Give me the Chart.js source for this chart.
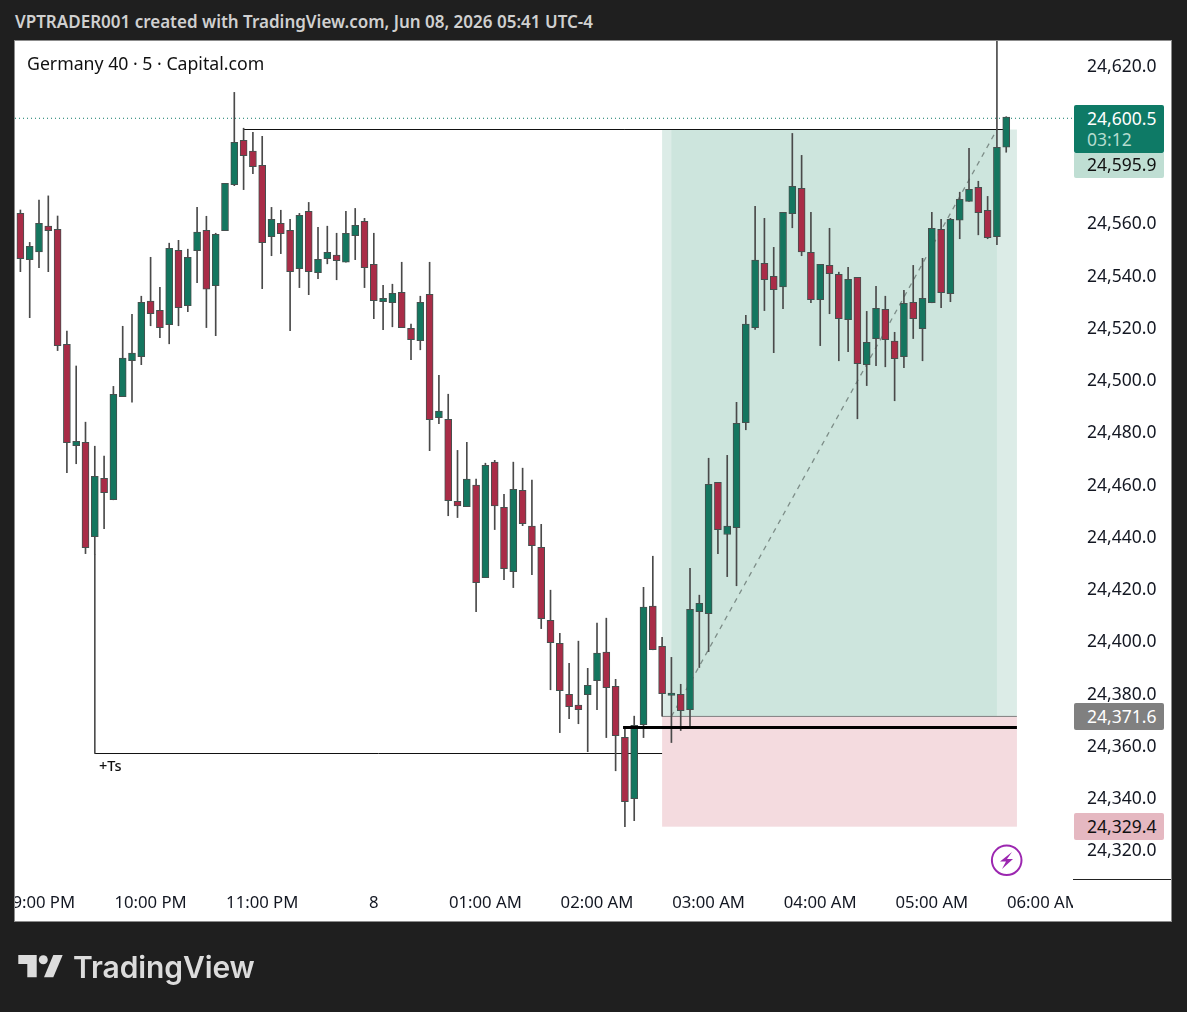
<!DOCTYPE html>
<html>
<head>
<meta charset="utf-8">
<title>Germany 40</title>
<script src="https://cdn.jsdelivr.net/npm/chart.js@4"></script>
<style>
  html, body { margin: 0; padding: 0; background: #1f1f1f; width: 1187px; height: 1012px; overflow: hidden; font-family: "Noto Sans", sans-serif; }
  .abs { position: absolute; white-space: nowrap; }
  #header { left: 15px; top: 10px; font-size: 17px; font-weight: 600; color: #d0d0d0; }
  #panel { left: 14px; top: 40px; width: 1156px; height: 880px; background: #fff; border: 1px solid #8c8c8c; }
  #panel canvas { position: absolute; left: 0; top: 0; }
  #title { left: 27px; top: 51px; font-size: 17.7px; font-weight: 400; color: #111; }
  #ts { left: 99px; top: 755px; font-size: 14.5px; font-weight: 500; color: #111; }
  .mask { left: 1073px; top: 880px; width: 98px; height: 41px; background: #fff; border-top: 1px solid #222; box-sizing: border-box; margin-top: -1px; }
  .tag { left: 1074px; width: 90px; box-sizing: border-box; padding-left: 13px; font-size: 17.5px; border-radius: 2px; font-weight: 400; }
  #brand { left: 73px; top: 949px; font-family: "Inter", sans-serif; font-size: 30px; font-weight: 600; color: #dcdcdc; letter-spacing: -0.1px; }
</style>
</head>
<body>
<div class="abs" id="header">VPTRADER001 created with TradingView.com, Jun 08, 2026 05:41 UTC-4</div>
<div class="abs" id="panel"><canvas id="chart" width="1156" height="880"></canvas></div>
<div class="abs mask"></div>
<div class="abs" id="title">Germany 40 · 5 · Capital.com</div>
<div class="abs" id="ts">+Ts</div>

<div class="abs tag" style="top:153px;height:25px;line-height:23px;background:#bfded3;color:#111;border-radius:0 0 2px 2px;">24,595.9</div>
<div class="abs tag" style="top:105px;height:48px;background:#0e7a66;color:#fff;line-height:21px;padding-top:3px;">24,600.5<br><span style="color:#b5dccf">03:12</span></div>
<div class="abs tag" style="top:703px;height:27px;line-height:26px;background:#808080;color:#fff;">24,371.6</div>
<div class="abs tag" style="top:813px;height:27px;line-height:26px;background:#e5b8c1;color:#111;">24,329.4</div>

<svg class="abs" style="left:0;top:0;pointer-events:none" width="1187" height="1012">
  <circle cx="1006.7" cy="860.3" r="14.8" fill="#fff" stroke="#9c27b0" stroke-width="2"/>
  <path d="M1012 852 L1000 861.5 L1006 861.5 L1002 869 L1013 859 L1007 859 Z" fill="#9c27b0"/>
  <path d="M18.3 955 H36.7 V977.3 H27.3 V964 H18.3 Z" fill="#dcdcdc"/>
  <circle cx="43.3" cy="959.7" r="4.5" fill="#dcdcdc"/>
  <path d="M53.3 955 H62.7 L53.3 977.3 H44 Z" fill="#dcdcdc"/>
</svg>
<div class="abs" id="brand">TradingView</div>

<script>
// candles, 5 min bars
const opens = [24563.6,24545.9,24548.9,24558.7,24557.5,24513.5,24474.7,24476.0,24439.9,24462.2,24454.0,24493.5,24507.2,24508.8,24530.0,24526.5,24521.0,24549.5,24528.3,24549.3,24557.1,24535.9,24557.0,24574.6,24591.6,24587.4,24582.0,24554.7,24559.8,24557.1,24542.4,24564.4,24540.9,24546.3,24547.6,24544.9,24555.1,24560.6,24544.1,24529.8,24529.4,24533.4,24519.6,24514.9,24532.6,24485.4,24484.8,24453.4,24451.4,24459.6,24424.2,24468.4,24451.1,24426.5,24457.6,24443.9,24435.8,24407.9,24399.1,24379.6,24375.4,24379.4,24384.8,24395.7,24382.6,24363.1,24339.6,24367.9,24413.3,24397.9,24379.1,24379.6,24373.7,24411.2,24410.4,24460.7,24440.7,24443.3,24483.5,24519.9,24544.5,24539.5,24535.5,24563.5,24573.2,24548.7,24530.6,24543.7,24540.3,24522.9,24539.1,24505.7,24515.7,24526.9,24514.7,24508.8,24529.6,24519.5,24529.4,24557.5,24532.9,24561.0,24568.2,24573.6,24564.8,24554.7,24588.9];
const highs = [24564.9,24552.5,24568.7,24570.3,24562.6,24518.6,24505.2,24483.7,24474.5,24470.7,24497.4,24520.4,24525.0,24531.9,24546.8,24535.3,24552.2,24553.3,24549.9,24565.9,24562.5,24556.0,24575.1,24609.9,24596.2,24594.6,24593.1,24565.9,24564.8,24561.3,24563.6,24567.8,24558.3,24558.7,24556.0,24564.4,24565.5,24561.7,24556.0,24536.1,24536.5,24544.9,24521.2,24531.9,24544.9,24501.6,24494.4,24472.9,24476.0,24461.9,24468.0,24469.1,24456.1,24468.4,24466.1,24461.5,24444.6,24419.4,24402.9,24391.4,24399.9,24389.5,24406.8,24408.7,24385.3,24367.0,24371.2,24420.5,24432.4,24401.4,24393.7,24383.4,24427.8,24417.5,24469.9,24460.7,24471.0,24491.3,24524.6,24566.3,24561.7,24550.6,24564.0,24594.2,24585.8,24564.0,24544.1,24557.9,24541.1,24543.0,24539.1,24526.1,24535.7,24531.9,24518.1,24534.2,24543.7,24546.4,24564.0,24561.3,24561.7,24571.7,24588.5,24575.9,24570.1,24640.0,24600.6];
const lows = [24541.3,24523.7,24542.8,24541.3,24511.1,24464.4,24467.8,24433.4,24433.0,24442.9,24454.0,24493.5,24491.4,24505.7,24520.6,24516.0,24513.7,24520.6,24526.0,24537.1,24519.9,24516.8,24557.0,24574.2,24572.7,24578.8,24534.8,24547.4,24548.2,24518.7,24535.2,24532.5,24538.6,24544.3,24538.2,24544.9,24545.9,24535.2,24523.3,24519.1,24520.2,24519.9,24507.6,24511.4,24472.8,24483.1,24447.9,24447.2,24451.4,24411.2,24424.2,24442.6,24423.4,24420.4,24444.1,24425.3,24404.7,24381.3,24364.9,24370.2,24368.3,24357.6,24373.7,24363.0,24350.3,24328.9,24331.2,24363.0,24396.6,24371.2,24361.1,24365.7,24367.6,24389.8,24395.9,24433.4,24424.6,24421.1,24480.8,24519.2,24526.4,24510.3,24527.1,24558.1,24547.4,24529.4,24513.0,24525.2,24507.2,24510.7,24485.0,24497.7,24505.3,24504.9,24491.9,24504.6,24515.7,24507.2,24529.4,24527.5,24529.8,24553.9,24568.2,24555.4,24553.9,24551.6,24587.0];
const closes = [24546.3,24551.0,24559.8,24557.0,24513.0,24475.9,24476.4,24435.7,24463.0,24456.7,24494.4,24508.2,24510.1,24529.6,24525.2,24519.9,24550.2,24527.5,24546.8,24556.4,24534.6,24555.6,24575.1,24590.8,24585.7,24581.5,24552.4,24561.3,24555.8,24541.3,24562.9,24541.3,24546.0,24548.7,24545.5,24556.0,24559.0,24542.8,24530.2,24531.1,24533.0,24519.9,24515.3,24529.6,24484.7,24487.9,24453.7,24451.7,24461.9,24422.3,24467.2,24451.7,24427.6,24458.0,24444.9,24436.4,24408.5,24399.3,24381.0,24374.8,24373.7,24383.0,24395.3,24382.1,24363.7,24338.5,24367.7,24412.9,24396.6,24379.8,24380.0,24373.3,24412.1,24414.4,24459.9,24442.6,24443.9,24483.3,24521.2,24545.7,24538.2,24534.4,24564.0,24574.0,24548.9,24530.6,24544.1,24540.5,24523.3,24538.4,24506.1,24514.3,24527.3,24515.3,24508.0,24529.2,24523.3,24531.1,24557.9,24533.3,24561.3,24569.0,24572.8,24563.9,24554.3,24588.9,24600.5];

// axes
const priceTicks = [24620,24560,24540,24520,24500,24480,24460,24440,24420,24400,24380,24360,24340,24320];
const hourBars = [2,14,26,38,50,62,74,86,98,110];
const hourLabels = ['09:00 PM','10:00 PM','11:00 PM','8','01:00 AM','02:00 AM','03:00 AM','04:00 AM','05:00 AM','06:00 AM'];

// position tool + drawings (prices and bar numbers)
const entryPrice = 24371.1, targetPrice = 24595.7, stopPrice = 24328.9, lastPrice = 24600.0;
const tsPrice = 24356.9, thickPrice = 24366.9;

const GREEN = '#14765f', RED = '#a92c47', EDGE = '#45504e', WICK = '#4a4a4a';
const bull = opens.map((o, i) => closes[i] >= o);

function line(points, color, width, dash, order) {
  return {
    type: 'line', data: points.map(p => ({x: p[0], y: p[1]})),
    borderColor: color, borderWidth: width, borderDash: dash || [],
    pointRadius: 0, tension: 0, order: order, borderCapStyle: 'butt'
  };
}

// shaded boxes of the long position, behind everything
const boxes = {
  id: 'boxes',
  beforeDatasetsDraw(chart) {
    const {ctx, scales: {x, y}} = chart;
    const rect = (a, b, top, bottom, color) => {
      ctx.fillStyle = color;
      ctx.fillRect(x.getPixelForValue(a), y.getPixelForValue(top),
        x.getPixelForValue(b) - x.getPixelForValue(a), y.getPixelForValue(bottom) - y.getPixelForValue(top));
    };
    rect(69, 107.15, targetPrice, entryPrice, '#dcece7');
    rect(70, 105, targetPrice, entryPrice, '#cde5dd');
    rect(69, 107.15, entryPrice, stopPrice, '#f4dbdf');
  }
};

// scales must not reserve room for the tick labels at their ends
function noPadding(s) {
  s.paddingLeft = s.paddingRight = s.paddingTop = s.paddingBottom = 0;
}

new Chart(document.getElementById('chart'), {
  type: 'bar',
  data: {
    datasets: [
      line([[-0.58, lastPrice], [113.18, lastPrice]], '#0e7a66', 1, [1, 3], 4),
      line([[70, entryPrice], [105, targetPrice]], '#7d8d88', 1.3, [5, 5], 4),
      line([[69, entryPrice], [107.15, entryPrice]], '#808080', 1, [], 4),
      line([[8, 24433], [8, tsPrice]], '#4a4a4a', 1, [], 3),
      line([[8, tsPrice], [69, tsPrice]], '#111', 1, [], 3),
      line([[24, targetPrice], [106, targetPrice]], '#111', 1, [], 3),
      line([[64.8, thickPrice], [107.15, thickPrice]], '#000', 3, [], 0),
      {
        data: highs.map((h, i) => ({x: i, y: [lows[i], h]})),
        backgroundColor: WICK, barThickness: 1, borderWidth: 0, grouped: false, order: 2
      },
      {
        data: opens.map((o, i) => ({x: i, y: [o, closes[i]]})),
        backgroundColor: bull.map(b => b ? GREEN : RED),
        borderColor: EDGE, borderWidth: 1, borderSkipped: false,
        barThickness: 7, grouped: false, order: 1
      }
    ]
  },
  options: {
    responsive: false,
    animation: false,
    events: [],
    layout: {padding: 0, autoPadding: false},
    plugins: {legend: {display: false}, tooltip: {enabled: false}},
    scales: {
      x: {
        type: 'linear', min: -0.58, max: 113.18, offset: false,
        grid: {display: false}, border: {display: false},
        afterFit(s) { s.height = 41; noPadding(s); },
        afterBuildTicks(s) { s.ticks = hourBars.map(v => ({value: v})); },
        ticks: {
          autoSkip: false, maxRotation: 0, padding: 5, color: '#131722',
          font: {family: '"Noto Sans"', size: 16.7, weight: '400'},
          callback: v => hourLabels[hourBars.indexOf(v)]
        }
      },
      y: {
        position: 'right', min: 24308.5, max: 24629.57,
        grid: {display: false}, border: {display: false},
        afterFit(s) { s.width = 98; noPadding(s); },
        afterBuildTicks(s) { s.ticks = priceTicks.map(v => ({value: v})); },
        ticks: {
          padding: 6, crossAlign: 'near', color: '#131722',
          // blank first line with a 3px line height nudges the label down 1.5px
          font: {family: '"Noto Sans"', size: 17.5, weight: '400', lineHeight: '3px'},
          callback: v => ['', v.toLocaleString('en-US', {minimumFractionDigits: 1})]
        }
      }
    }
  },
  plugins: [boxes]
});
</script>
</body>
</html>
